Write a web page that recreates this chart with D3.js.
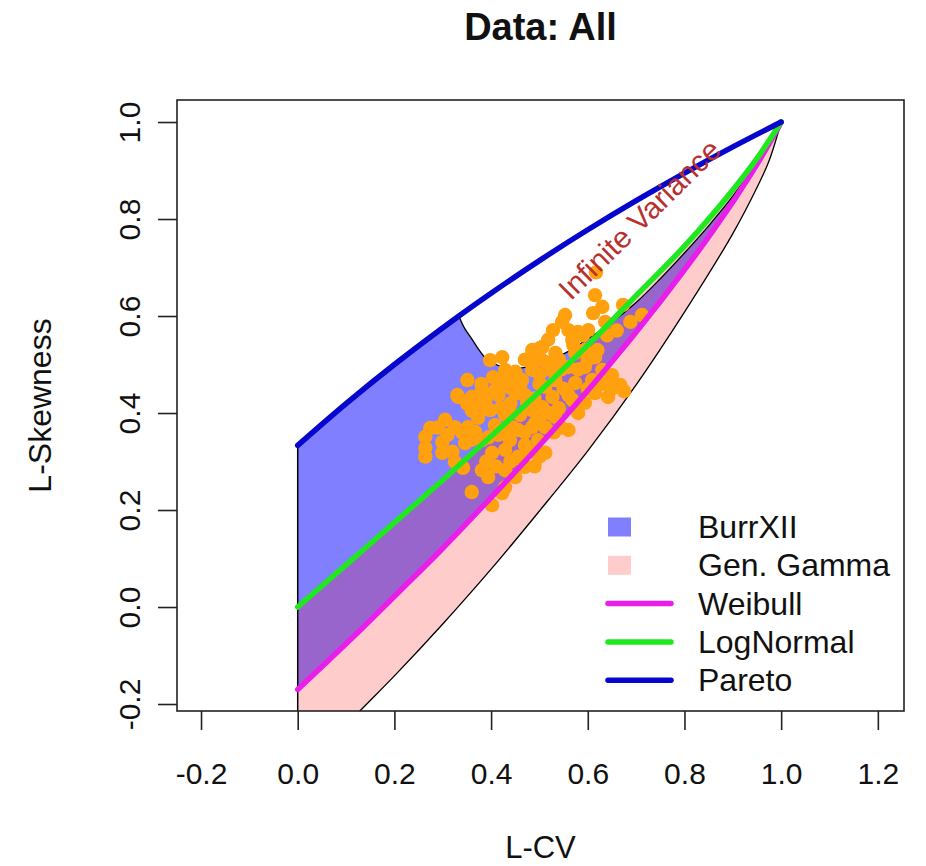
<!DOCTYPE html>
<html>
<head>
<meta charset="utf-8">
<script src="https://d3js.org/d3.v7.min.js"></script>
<style>
  body { margin:0; background:#fff; }
  text { font-family: "Liberation Sans", Arial, sans-serif; }
</style>
</head>
<body>
<svg id="chart"></svg>
<script>
// L-moment ratio diagram (L-CV vs L-Skewness)

// theoretical curves
var paretoCv     = [0, 0.1, 0.2, 0.3333, 0.4, 0.5, 0.6, 0.7, 0.8, 0.9, 1.0];
var paretoSkew   = [0.3333, 0.4194, 0.5, 0.6, 0.6471, 0.7143, 0.7778, 0.8378, 0.8947, 0.9487, 1.0];

var lognormCv    = [0, 0.1, 0.2, 0.3, 0.4, 0.5, 0.6, 0.7, 0.8, 0.9, 0.95, 1.0];
var lognormSkew  = [0, 0.087, 0.174, 0.262, 0.352, 0.444, 0.54, 0.642, 0.744, 0.86, 0.925, 1.0];

var weibullCv    = [0, 0.067, 0.129, 0.206, 0.293, 0.37, 0.5, 0.6285, 0.75, 0.862, 0.9375, 0.99, 1.0];
var weibullSkew  = [-0.17, -0.107, -0.048, 0.028, 0.114, 0.194, 0.333, 0.48, 0.63, 0.78, 0.893, 0.981, 1.0];

// boundary of the BurrXII region where the variance is infinite
var infVarCv     = [0.3333, 0.345, 0.36, 0.375, 0.39, 0.41, 0.43, 0.45, 0.47, 0.5, 0.53, 0.56, 0.6, 0.64, 0.7, 0.75, 0.8, 0.85, 0.9, 0.95, 1.0];
var infVarSkew   = [0.6, 0.575, 0.553, 0.53, 0.512, 0.5, 0.493, 0.492, 0.494, 0.502, 0.513, 0.527, 0.553, 0.58, 0.628, 0.677, 0.73, 0.786, 0.847, 0.918, 1.0];

// lower edge of the generalized gamma region
var ggLowerCv    = [0.1, 0.129, 0.2, 0.3, 0.4, 0.5, 0.6, 0.7, 0.8, 0.9, 0.95, 0.975, 1.0];
var ggLowerSkew  = [-0.245, -0.214, -0.142, -0.035, 0.078, 0.198, 0.322, 0.458, 0.608, 0.77, 0.865, 0.92, 1.0];

// sample L-moment ratios
var sampleCv = [0.264,0.264,0.264,0.299,0.299,0.332,0.360,0.388,0.415,0.450,0.325,0.352,0.367,0.381,0.346,0.325,0.342,0.381,0.394,0.429,
  0.402,0.429,0.456,0.456,0.485,0.485,0.360,0.423,0.402,0.470,0.450,0.429,
  0.351,0.330,0.398,0.423,0.404,0.429,0.381,0.408,0.435,0.464,0.485,0.485,0.506,0.506,0.456,
  0.617,0.615,0.630,0.611,0.553,0.547,0.528,0.518,0.636,0.673,0.688,0.712,0.560,0.580,0.601,0.568,0.501,0.491,0.594,0.615,
  0.574,0.533,0.518,0.560,0.594,0.630,0.650,0.667,0.609,0.574,0.533,0.512,0.615,0.642,0.560,0.527,
  0.675,0.594,0.568,0.506,0.533,0.560,0.512,0.497,0.512,0.491,
  0.398,0.429,0.460,0.373,0.408,0.439,0.470,0.305,0.274,0.419,0.450,0.470,0.440,0.360,0.470,0.500,0.545,0.590,
  0.390,0.410,0.440,0.395,0.415,0.430,0.445,0.420,0.440,0.380,0.390,0.370,0.350,0.360,0.340,0.310,0.290,0.320,
  0.440,0.460,0.475,0.490,0.500,0.520,0.540,0.550,0.580,0.600,0.620,0.640,0.660,0.520,0.540,0.570,0.500,0.470,
  0.465,0.480,0.490,0.500,0.530,0.545,0.580,0.600,0.630,0.650];
var sampleSkew = [0.351,0.328,0.310,0.340,0.318,0.433,0.433,0.427,0.437,0.443,0.371,0.371,0.361,0.344,0.338,0.299,0.287,0.282,0.268,0.282,
  0.318,0.324,0.310,0.365,0.371,0.406,0.237,0.235,0.210,0.289,0.268,0.247,
  0.468,0.437,0.509,0.515,0.474,0.489,0.447,0.447,0.454,0.468,0.489,0.530,0.509,0.536,0.441,
  0.690,0.643,0.619,0.606,0.602,0.588,0.571,0.551,0.588,0.623,0.588,0.602,0.571,0.567,0.571,0.551,0.534,0.509,0.530,0.515,
  0.524,0.524,0.503,0.495,0.495,0.489,0.478,0.458,0.468,0.462,0.468,0.454,0.441,0.433,0.437,0.433,
  0.445,0.421,0.427,0.412,0.392,0.365,0.371,0.344,0.318,0.379,
  0.406,0.396,0.396,0.390,0.375,0.344,0.334,0.386,0.369,0.468,0.485,0.437,0.420,0.405,0.360,0.460,0.490,0.560,
  0.300,0.290,0.300,0.350,0.355,0.360,0.370,0.410,0.400,0.460,0.410,0.420,0.420,0.345,0.360,0.355,0.370,0.320,
  0.470,0.455,0.420,0.430,0.390,0.400,0.410,0.450,0.490,0.510,0.530,0.560,0.570,0.490,0.510,0.540,0.480,0.510,
  0.300,0.320,0.290,0.310,0.360,0.370,0.400,0.450,0.460,0.450];

var xTicks = [-0.2, 0.0, 0.2, 0.4, 0.6, 0.8, 1.0, 1.2];
var yTicks = [-0.2, 0.0, 0.2, 0.4, 0.6, 0.8, 1.0];

var legendLabels = ["BurrXII", "Gen. Gamma", "Weibull", "LogNormal", "Pareto"];

var colors = {
  burr: "rgba(0,0,255,0.5)",
  gamma: "rgba(255,0,0,0.2)",
  weibull: "#ea1eea",
  lognorm: "#1fe81f",
  pareto: "#0606cc",
  points: "#ffa00f",
  note: "#b8302f"
};

var screen = {width:926, height:866};
var plot = {left:177, right:904, top:100, bottom:711};

var svg = d3.select("#chart")
  .attr("width", screen.width)
  .attr("height", screen.height);

var x = d3.scaleLinear().domain([-0.2497, 1.2541]).range([plot.left, plot.right]);
var y = d3.scaleLinear().domain([-0.2144, 1.0454]).range([plot.bottom, plot.top]);

var zip = function(a, b) { return a.map(function(v, i) { return [v, b[i]]; }); };

var pareto  = zip(paretoCv, paretoSkew);
var lognorm = zip(lognormCv, lognormSkew);
var weibull = zip(weibullCv, weibullSkew);
var infVar  = zip(infVarCv, infVarSkew);
var ggLower = zip(ggLowerCv, ggLowerSkew);

var lineGen = d3.line()
  .x(function(d) { return x(d[0]); })
  .y(function(d) { return y(d[1]); })
  .curve(d3.curveCatmullRom);

// join several smooth pieces into one closed outline
var outline = function(pieces) {
  var d = "";
  pieces.forEach(function(p, i) {
    var s = p.length > 1 ? lineGen(p) : "M" + x(p[0][0]) + "," + y(p[0][1]);
    d += i == 0 ? s : "L" + s.slice(1);
  });
  return d + "Z";
};

svg.append("defs").append("clipPath").attr("id", "plotclip")
  .append("rect")
  .attr("x", plot.left).attr("y", plot.top)
  .attr("width", plot.right - plot.left).attr("height", plot.bottom - plot.top);

var g = svg.append("g").attr("clip-path", "url(#plotclip)");

// BurrXII region
var paretoLeft = pareto.filter(function(d) { return d[0] <= infVarCv[0]; });
g.append("path")
  .attr("d", outline([paretoLeft, infVar, weibull.slice().reverse()]))
  .attr("fill", colors.burr);

// Gen. Gamma region
g.append("path")
  .attr("d", outline([lognorm, ggLower.slice().reverse(), [[0, ggLowerSkew[0]]]]))
  .attr("fill", colors.gamma);

// thin black boundaries
g.append("line")
  .attr("x1", x(0)).attr("y1", y(paretoSkew[0]))
  .attr("x2", x(0)).attr("y2", y(ggLowerSkew[0]))
  .attr("stroke", "black").attr("stroke-width", 1.5);

[infVar, ggLower].forEach(function(c) {
  g.append("path").attr("d", lineGen(c))
    .attr("fill", "none").attr("stroke", "black").attr("stroke-width", 1.3);
});

// sample points
g.selectAll("circle.pt")
  .data(zip(sampleCv, sampleSkew))
  .enter()
  .append("circle")
  .attr("class", "pt")
  .attr("cx", function(d) { return x(d[0]); })
  .attr("cy", function(d) { return y(d[1]); })
  .attr("r", 7.2)
  .attr("fill", colors.points);

// distribution curves
[[weibull, colors.weibull], [lognorm, colors.lognorm], [pareto, colors.pareto]].forEach(function(c) {
  g.append("path").attr("d", lineGen(c[0]))
    .attr("fill", "none")
    .attr("stroke", c[1])
    .attr("stroke-width", 5.5)
    .attr("stroke-linecap", "round");
});

// note
g.append("text")
  .attr("transform", "translate(" + x(0.722) + "," + y(0.784) + ") rotate(-44.5)")
  .attr("text-anchor", "middle")
  .attr("font-size", 30)
  .attr("fill", colors.note)
  .text("Infinite Variance");

// box
svg.append("rect")
  .attr("x", plot.left).attr("y", plot.top)
  .attr("width", plot.right - plot.left).attr("height", plot.bottom - plot.top)
  .attr("fill", "none").attr("stroke", "#222").attr("stroke-width", 1.6);

// axes
var fmt = function(d) { return d.toFixed(1); };

var xAxis = svg.append("g")
  .attr("transform", "translate(0," + plot.bottom + ")")
  .call(d3.axisBottom(x).tickValues(xTicks).tickFormat(fmt).tickSize(19).tickSizeOuter(0));
xAxis.select(".domain").remove();
xAxis.selectAll(".tick line").attr("stroke", "#222").attr("stroke-width", 1.6);
xAxis.selectAll(".tick text")
  .attr("y", 73).attr("dy", 0)
  .attr("font-size", 30).attr("fill", "#111")
  .style("font-family", "'Liberation Sans', Arial, sans-serif");

var yAxis = svg.append("g")
  .attr("transform", "translate(" + plot.left + ",0)")
  .call(d3.axisLeft(y).tickValues(yTicks).tickFormat(fmt).tickSize(19).tickSizeOuter(0));
yAxis.select(".domain").remove();
yAxis.selectAll(".tick line").attr("stroke", "#222").attr("stroke-width", 1.6);
yAxis.selectAll(".tick text")
  .attr("transform", "rotate(-90)")
  .attr("x", 0).attr("y", -37).attr("dy", 0)
  .attr("text-anchor", "middle")
  .attr("font-size", 30).attr("fill", "#111")
  .style("font-family", "'Liberation Sans', Arial, sans-serif");

// axis titles
svg.append("text")
  .attr("x", (plot.left + plot.right) / 2).attr("y", 858)
  .attr("text-anchor", "middle").attr("font-size", 31).attr("fill", "#111")
  .text("L-CV");

svg.append("text")
  .attr("transform", "translate(51," + (plot.top + plot.bottom) / 2 + ") rotate(-90)")
  .attr("text-anchor", "middle").attr("font-size", 32).attr("fill", "#111")
  .text("L-Skewness");

// title
svg.append("text")
  .attr("x", (plot.left + plot.right) / 2).attr("y", 40)
  .attr("text-anchor", "middle").attr("font-size", 38).attr("font-weight", "bold").attr("fill", "#111")
  .text("Data: All");

// legend
var legend = svg.append("g").attr("transform", "translate(608,527)");
var legendKinds = [
  {type:"box", color: colors.burr},
  {type:"box", color: colors.gamma},
  {type:"line", color: colors.weibull},
  {type:"line", color: colors.lognorm},
  {type:"line", color: colors.pareto}
];
var rowH = 38.3;

legendLabels.forEach(function(label, i) {
  var row = legend.append("g").attr("transform", "translate(0," + i * rowH + ")");
  var k = legendKinds[i];
  if (k.type == "box") {
    row.append("rect").attr("x", 0).attr("y", -9.5).attr("width", 23).attr("height", 19)
      .attr("fill", k.color);
  } else {
    row.append("line").attr("x1", 0).attr("x2", 63).attr("y1", 0).attr("y2", 0)
      .attr("stroke", k.color).attr("stroke-width", 5.5).attr("stroke-linecap", "round");
  }
  row.append("text").attr("x", 90).attr("y", 11)
    .attr("font-size", 32).attr("fill", "#111")
    .text(label);
});
</script>
</body>
</html>
